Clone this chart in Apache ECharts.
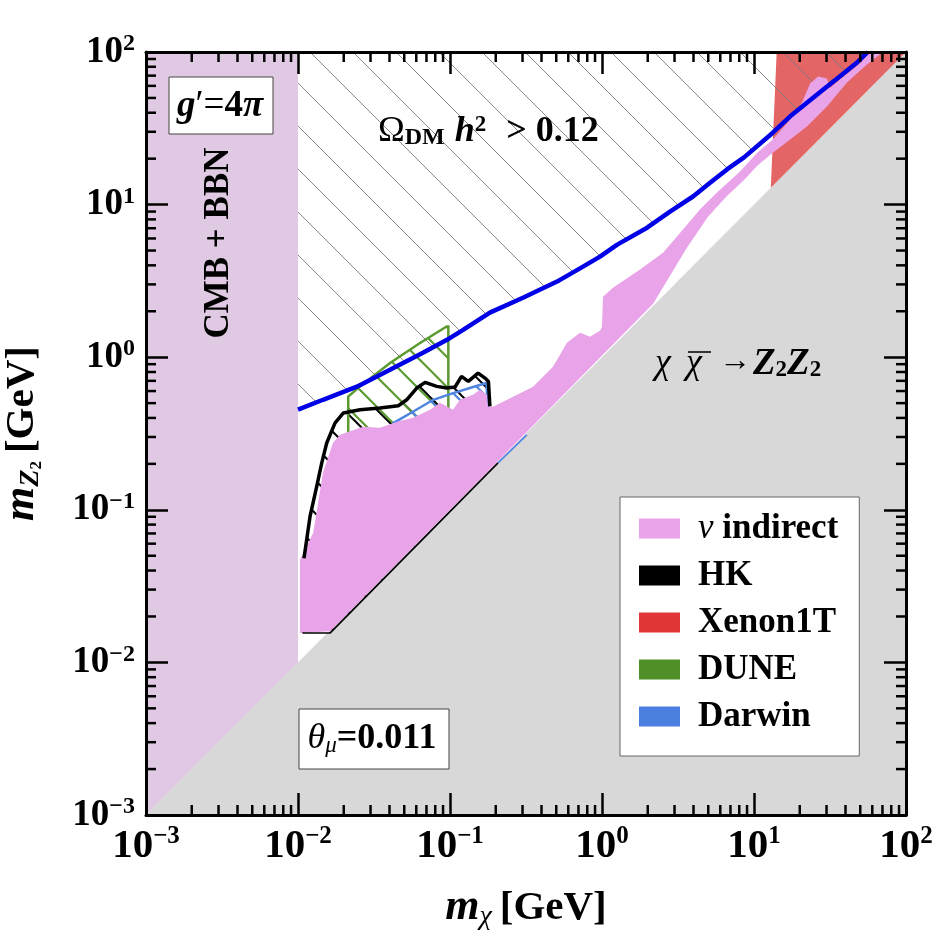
<!DOCTYPE html>
<html>
<head>
<meta charset="utf-8">
<script src="https://cdn.jsdelivr.net/npm/echarts@6/dist/echarts.min.js"></script>
<style>
  html, body { margin: 0; background: #fff; }
  #chart { width: 937px; height: 933px; }
</style>
</head>
<body>
<div id="chart"></div>
<script>
const SERIF = "'Liberation Serif', 'Times New Roman', serif";

// axes: m_chi and m_Z2 in GeV, both log
const axisMin = 1e-3, axisMax = 1e2;
const decades = [1e-3, 1e-2, 1e-1, 1, 10];
const minorSteps = [2, 3, 4, 5, 6, 7, 8, 9];

// regions, [m_chi, m_Z2] in GeV
const forbidden = [[1e-3, 1e-3], [100, 100], [100, 1e-3]];
const cmbBbn = [[1e-3, 1e-3], [0.01, 0.01], [0.01, 100], [1e-3, 100]];
const xenon1T = [[12.9, 12.9], [14.1, 100], [100, 100]];

// relic density line, Omega h^2 = 0.12
const relic = [[0.0100, 0.453], [0.0146, 0.526], [0.0244, 0.641], [0.0403, 0.828], [0.0664, 1.07],
  [0.0955, 1.30], [0.122, 1.51], [0.183, 1.96], [0.302, 2.45], [0.506, 3.13], [0.750, 3.92],
  [0.970, 4.56], [1.26, 5.47], [1.98, 7.06], [2.80, 9.0], [3.97, 11.3], [5.14, 13.9], [6.64, 17.0],
  [8.6, 20.4], [13.3, 29.6], [17.3, 37.9], [28.6, 56.8], [36.8, 69.4], [47.4, 85], [56, 100]];

// nu indirect region outline
const nuIndirect = [[0.0103, 0.0156], [0.0103, 0.047], [0.0126, 0.0707], [0.0146, 0.175], [0.0170, 0.275],
  [0.0189, 0.310], [0.0268, 0.350], [0.0346, 0.345], [0.0448, 0.378], [0.0571, 0.401], [0.0739, 0.453],
  [0.0859, 0.503], [0.1046, 0.453], [0.1163, 0.526], [0.1417, 0.567], [0.1576, 0.612], [0.1751, 0.567],
  [0.1778, 0.474], [0.1918, 0.474], [0.260, 0.551], [0.352, 0.641], [0.476, 0.866], [0.588, 1.245],
  [0.717, 1.448], [0.834, 1.362], [0.970, 1.492], [1.00, 1.585], [1.015, 2.49], [1.18, 2.855],
  [1.78, 3.75], [2.52, 4.84], [3.41, 6.86], [4.41, 9.27], [5.71, 12.0], [8.09, 16.5], [10.5, 21.9],
  [13.3, 26.7], [17.3, 36.1], [20.7, 46.7], [23.4, 62.1], [26.4, 69.1], [30.2, 67.0], [31.6, 58],
  [36.8, 66], [47.4, 81], [56, 96], [60, 100], [70.6, 100], [55.4, 82.8], [40.9, 63.1], [30.2, 43.9],
  [22.3, 32.5], [17.3, 26.7], [13.3, 21.9], [10.5, 18.0], [8.6, 14.5], [6.64, 11.4], [4.98, 8.34],
  [3.62, 5.22], [2.80, 3.42], [2.17, 2.24], [0.0163, 0.016]];

// HK
const hkCurve = [[0.01095, 0.0482], [0.0120, 0.0904], [0.01327, 0.142], [0.01432, 0.202], [0.01545, 0.274],
  [0.0175, 0.370], [0.0199, 0.431], [0.0256, 0.453], [0.0346, 0.464], [0.0457, 0.481], [0.0519, 0.526],
  [0.0604, 0.628], [0.0686, 0.684], [0.0818, 0.644], [0.0951, 0.628], [0.108, 0.638], [0.119, 0.748],
  [0.132, 0.694], [0.153, 0.787], [0.170, 0.730], [0.179, 0.694], [0.183, 0.476]];
const hkBase = [[0.183, 0.19], [0.0163, 0.0156], [0.0107, 0.0156]];
const hkEdge = [[0.0107, 0.0156], [0.0163, 0.0156], [0.207, 0.203]];

// DUNE
const dune = [[0.0214, 0.288], [0.0214, 0.553], [0.0256, 0.644], [0.0403, 0.916], [0.0635, 1.24],
  [0.0951, 1.59], [0.0975, 1.59], [0.0975, 0.389]];

// Darwin
const darwin = [[0.0424, 0.300], [0.0424, 0.370], [0.0574, 0.441], [0.0776, 0.526], [0.105, 0.582],
  [0.142, 0.638], [0.174, 0.678], [0.178, 0.40], [0.178, 0.30]];
const darwinEdge = [[0.207, 0.203], [0.32, 0.31]];

const legendNames = ['ν indirect', 'HK', 'Xenon1T', 'DUNE', 'Darwin'];

// diagonal line pattern
function hatch(color, step, width) {
  const c = document.createElement('canvas');
  c.width = step; c.height = step;
  const g = c.getContext('2d');
  g.strokeStyle = color; g.lineWidth = width;
  for (let k = -1; k <= 1; k++) {
    g.beginPath();
    g.moveTo(-step, -step + k * step);
    g.lineTo(2 * step, 2 * step + k * step);
    g.stroke();
  }
  return { image: c, repeat: 'repeat' };
}

function area(name, pts, fill, opts) {
  opts = opts || {};
  return {
    type: 'custom', name: name, z: opts.z || 2, silent: true, clip: true,
    itemStyle: { color: opts.legendColor || fill },
    data: pts,
    renderItem: function (params, api) {
      if (params.dataIndex !== 0) return null;
      return {
        type: 'polygon',
        shape: { points: pts.map(p => api.coord(p)) },
        style: { fill: fill, stroke: opts.stroke || null, lineWidth: opts.lineWidth || 0 }
      };
    }
  };
}

function curve(pts, color, width, z) {
  return {
    type: 'line', data: pts, z: z, silent: true, showSymbol: false, symbol: 'none',
    lineStyle: { color: color, width: width }, clip: true
  };
}

const T = (size, weight, style, extra) => Object.assign({
  fontFamily: SERIF, fontSize: size, fontWeight: weight || 'bold', fontStyle: style || 'normal', color: '#000'
}, extra || {});

function tickFmt(v) {
  const e = Math.round(Math.log10(v));
  return '{b|10}{s|' + (e < 0 ? '−' + (-e) : e) + '}';
}

function logAxis(extra) {
  return Object.assign({
    type: 'log', logBase: 10, min: axisMin, max: axisMax, z: 30,
    splitLine: { show: false },
    axisLine: { show: true, onZero: false, lineStyle: { color: '#000', width: 3 } },
    axisTick: { show: true, inside: true, length: 22, lineStyle: { color: '#000', width: 2.5 } },
    minorTick: { show: false },
    axisLabel: { show: false }
  }, extra);
}

const minorTicks = [];
decades.forEach(d => minorSteps.forEach(s => minorTicks.push(d * s)));

function seg(x1, y1, x2, y2) {
  return { type: 'line', shape: { x1, y1, x2, y2 }, style: { stroke: '#000', lineWidth: 2.5 } };
}

const nameRich = {
  m: T(44, 'bold', 'italic', { lineHeight: 46 }),
  c: T(28, 'normal', 'italic', { lineHeight: 22, verticalAlign: 'bottom' }),
  z: T(28, 'bold', 'italic', { lineHeight: 26, verticalAlign: 'bottom' }),
  t: T(17, 'bold', 'normal', { lineHeight: 13, verticalAlign: 'bottom' }),
  g: T(41, 'bold', 'normal', { lineHeight: 46, padding: [0, 0, 0, 8] })
};

const chart = echarts.init(document.getElementById('chart'));
chart.setOption({
  animation: false,
  backgroundColor: '#fff',
  grid: { left: 146, right: 31, top: 52, bottom: 118, show: false, outerBoundsMode: 'none' },
  xAxis: [
    logAxis({
      position: 'bottom',
      axisLabel: {
        show: true, margin: 9, formatter: tickFmt, showMinLabel: true, showMaxLabel: true, hideOverlap: false,
        rich: {
          b: T(41, 'bold', 'normal', { lineHeight: 44 }),
          s: T(25, 'bold', 'normal', { lineHeight: 12, verticalAlign: 'top' })
        }
      },
      name: '{m|m}{c|χ}{g|[GeV]}',
      nameLocation: 'middle', nameGap: 70,
      nameTextStyle: { rich: nameRich }
    }),
    logAxis({ position: 'top' })
  ],
  yAxis: [
    logAxis({
      position: 'left',
      axisLabel: {
        show: true, margin: 11, formatter: tickFmt, showMinLabel: true, showMaxLabel: true, hideOverlap: false,
        rich: {
          b: T(37, 'bold', 'normal', { lineHeight: 40 }),
          s: T(24, 'bold', 'normal', { lineHeight: 19, verticalAlign: 'top' })
        }
      },
      name: '{m|m}{z|Z}{t|2}{g|[GeV]}',
      nameLocation: 'middle', nameGap: 101, nameRotate: 90,
      nameTextStyle: { rich: nameRich }
    }),
    logAxis({ position: 'right' })
  ],
  legend: {
    data: legendNames,
    orient: 'vertical', left: 620, top: 497,
    padding: [14, 21, 22, 19],
    itemWidth: 41, itemHeight: 20, itemGap: 12,
    icon: 'rect',
    backgroundColor: '#fff', borderColor: '#666', borderWidth: 1,
    selectedMode: false,
    textStyle: {
      fontFamily: SERIF, fontSize: 35, fontWeight: 'bold', color: '#000',
      rich: {
        gi: T(35, 'normal', 'italic', { lineHeight: 35, padding: [0, 0, 0, 13] }),
        t: T(35, 'bold', 'normal', { lineHeight: 35 }),
        g: T(35, 'bold', 'normal', { lineHeight: 35, padding: [0, 0, 0, 13] })
      }
    },
    formatter: function (name) {
      return name === 'ν indirect' ? '{gi|ν}{t| indirect}' : '{g|' + name + '}';
    }
  },
  graphic: [
    { type: 'rect', z: 50, shape: { x: 169, y: 77, width: 104, height: 57 }, style: { fill: '#fff', stroke: '#444', lineWidth: 1 } },
    { type: 'text', z: 51, x: 220, y: 106, style: {
      text: '{gi|g}{r|′=}{b|4}{pi|π}', align: 'center', verticalAlign: 'middle',
      rich: { gi: T(37, 'bold', 'italic'), r: T(37, 'normal'), b: T(37, 'bold'), pi: T(37, 'bold', 'italic') } } },
    { type: 'text', z: 51, x: 219, y: 243, rotation: Math.PI / 2, style: {
      text: 'CMB + BBN', align: 'center', verticalAlign: 'middle', font: 'bold 35px ' + SERIF, fill: '#000' } },
    { type: 'text', z: 51, x: 378, y: 132, style: {
      text: '{o|Ω}{s|DM}{h|h}{p|2}{b|>}{n|0.12}', align: 'left', verticalAlign: 'middle',
      rich: {
        o: T(36, 'normal', 'normal', { lineHeight: 36 }),
        s: T(24, 'bold', 'normal', { lineHeight: 22, verticalAlign: 'bottom' }),
        h: T(36, 'bold', 'italic', { lineHeight: 36, padding: [0, 0, 0, 10] }),
        p: T(23, 'bold', 'normal', { lineHeight: 18, verticalAlign: 'top' }),
        b: T(36, 'bold', 'normal', { lineHeight: 36, padding: [0, 0, 0, 20] }),
        n: T(36, 'bold', 'normal', { lineHeight: 36, padding: [0, 0, 0, 9] })
      } } },
    // chi chibar -> Z2 Z2
    { type: 'text', z: 51, x: 655, y: 364, style: { text: 'χ', align: 'left', verticalAlign: 'middle', font: 'italic 36px ' + SERIF, fill: '#000' } },
    { type: 'text', z: 51, x: 686, y: 364, style: { text: 'χ', align: 'left', verticalAlign: 'middle', font: 'italic 36px ' + SERIF, fill: '#000' } },
    { type: 'line', z: 51, shape: { x1: 688, y1: 352, x2: 711, y2: 352 }, style: { stroke: '#000', lineWidth: 1.5 } },
    { type: 'text', z: 51, x: 719, y: 362, style: { text: '→', align: 'left', verticalAlign: 'middle', font: '32px ' + SERIF, fill: '#000' } },
    { type: 'text', z: 51, x: 753, y: 364, style: {
      text: '{z|Z}{s|2}{z|Z}{s|2}', align: 'left', verticalAlign: 'middle',
      rich: {
        z: T(37, 'bold', 'italic', { lineHeight: 36 }),
        s: T(23, 'bold', 'normal', { lineHeight: 22, verticalAlign: 'bottom' })
      } } },
    { type: 'rect', z: 50, shape: { x: 299, y: 709, width: 150, height: 60 }, style: { fill: '#fff', stroke: '#444', lineWidth: 1 } },
    { type: 'text', z: 51, x: 372, y: 739, style: {
      text: '{t|θ}{m|μ}{b|=0.011}', align: 'center', verticalAlign: 'middle',
      rich: {
        t: T(36, 'normal', 'italic', { lineHeight: 36 }),
        m: T(23, 'normal', 'italic', { lineHeight: 22, verticalAlign: 'bottom' }),
        b: T(36, 'bold', 'normal', { lineHeight: 36 })
      } } }
  ],
  series: [
    area(undefined, forbidden, '#d8d8d8', { z: 1 }),
    area(undefined, cmbBbn, '#e0c9e2', { z: 1 }),
    area('Xenon1T', xenon1T, '#e46565', { z: 2, legendColor: '#e23636' }),
    area(undefined, relic.concat([[0.01, 100]]), hatch('#7a7a7a', 43, 0.9), { z: 3 }),
    area('HK', hkCurve.concat(hkBase), hatch('#000', 33, 2), { z: 3, legendColor: '#000' }),
    area('DUNE', dune, hatch('#5b9a31', 30, 2.2), { z: 3, legendColor: '#4f8f27', stroke: '#5b9a31', lineWidth: 2.5 }),
    area('Darwin', darwin, hatch('#4f84e0', 30, 2.2), { z: 3, legendColor: '#4a7fe0', stroke: '#4f84e0', lineWidth: 2.5 }),
    area('ν indirect', nuIndirect, '#e9a3e9', { z: 4 }),
    curve(hkCurve, '#000', 3.5, 5),
    curve(hkEdge, '#000', 1.6, 5),
    curve(darwinEdge, '#4f84e0', 1.6, 5),
    curve(relic, '#0000e6', 4.5, 6),
    {
      type: 'custom', z: 20, silent: true, clip: false,
      data: minorTicks.map(v => [v, v]),
      renderItem: function (params, api) {
        const v = minorTicks[params.dataIndex];
        const b = api.coord([v, axisMin]), t = api.coord([v, axisMax]);
        const l = api.coord([axisMin, v]), r = api.coord([axisMax, v]);
        const L = 10;
        return { type: 'group', children: [
          seg(b[0], b[1], b[0], b[1] - L), seg(t[0], t[1], t[0], t[1] + L),
          seg(l[0], l[1], l[0] + L, l[1]), seg(r[0], r[1], r[0] - L, r[1])
        ] };
      }
    }
  ]
});
</script>
</body>
</html>
